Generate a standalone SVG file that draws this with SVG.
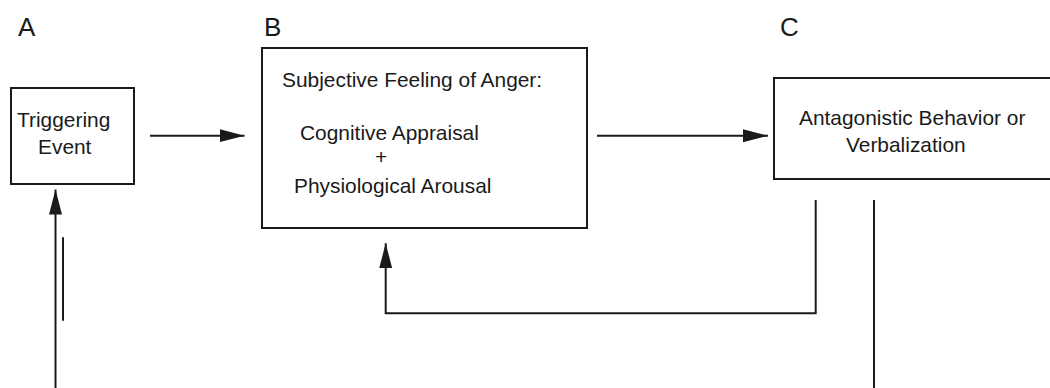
<svg xmlns="http://www.w3.org/2000/svg" width="1050" height="388" viewBox="0 0 1050 388">
<style>
.box{fill:#fff;stroke:#1a1a1a;stroke-width:2}
.t{font-family:"Liberation Sans",Arial,sans-serif;font-size:20.9px;fill:#1a1a1a}
.lbl{font-family:"Liberation Sans",Arial,sans-serif;font-size:26px;fill:#1a1a1a}
.ln{fill:none;stroke:#1a1a1a;stroke-width:2}
</style>
<defs>
<marker id="ah" markerUnits="userSpaceOnUse" markerWidth="26" markerHeight="14" refX="25" refY="7" orient="auto" viewBox="0 0 26 14">
<path d="M0,0.5 L25,7 L0,13.5 Z" fill="#1a1a1a"/>
</marker>
</defs>
<rect width="1050" height="388" fill="#fff"/>
<text class="lbl" x="18" y="35.5">A</text>
<text class="lbl" x="264" y="35.5">B</text>
<text class="lbl" x="780" y="35.5">C</text>
<g id="nodeA">
<rect class="box" x="11" y="88" width="123" height="96"/>
<text class="t" x="17" y="127">Triggering</text>
<text class="t" x="38" y="154">Event</text>
</g>
<g id="nodeB">
<rect class="box" x="262" y="48" width="325" height="180"/>
<text class="t" x="282" y="87">Subjective Feeling of Anger:</text>
<text class="t" x="300" y="140">Cognitive Appraisal</text>
<text class="t" x="381" y="164" text-anchor="middle">+</text>
<text class="t" x="294" y="193">Physiological Arousal</text>
</g>
<g id="nodeC">
<rect class="box" x="774" y="78" width="300" height="101"/>
<text class="t" x="799" y="125">Antagonistic Behavior or</text>
<text class="t" x="846" y="152">Verbalization</text>
</g>
<g id="connectors">
<line class="ln" x1="150" y1="135.7" x2="244.5" y2="135.7" marker-end="url(#ah)"/>
<line class="ln" x1="597" y1="135.7" x2="768" y2="135.7" marker-end="url(#ah)"/>
<polyline class="ln" points="815.7,200 815.7,313.3 385.7,313.3 385.7,243.3" marker-end="url(#ah)"/>
<line class="ln" x1="874" y1="200" x2="874" y2="388"/>
<line class="ln" x1="55.5" y1="388" x2="55.5" y2="189.5" marker-end="url(#ah)"/>
<line class="ln" x1="63" y1="237.3" x2="63" y2="320.7"/>
</g>
</svg>
